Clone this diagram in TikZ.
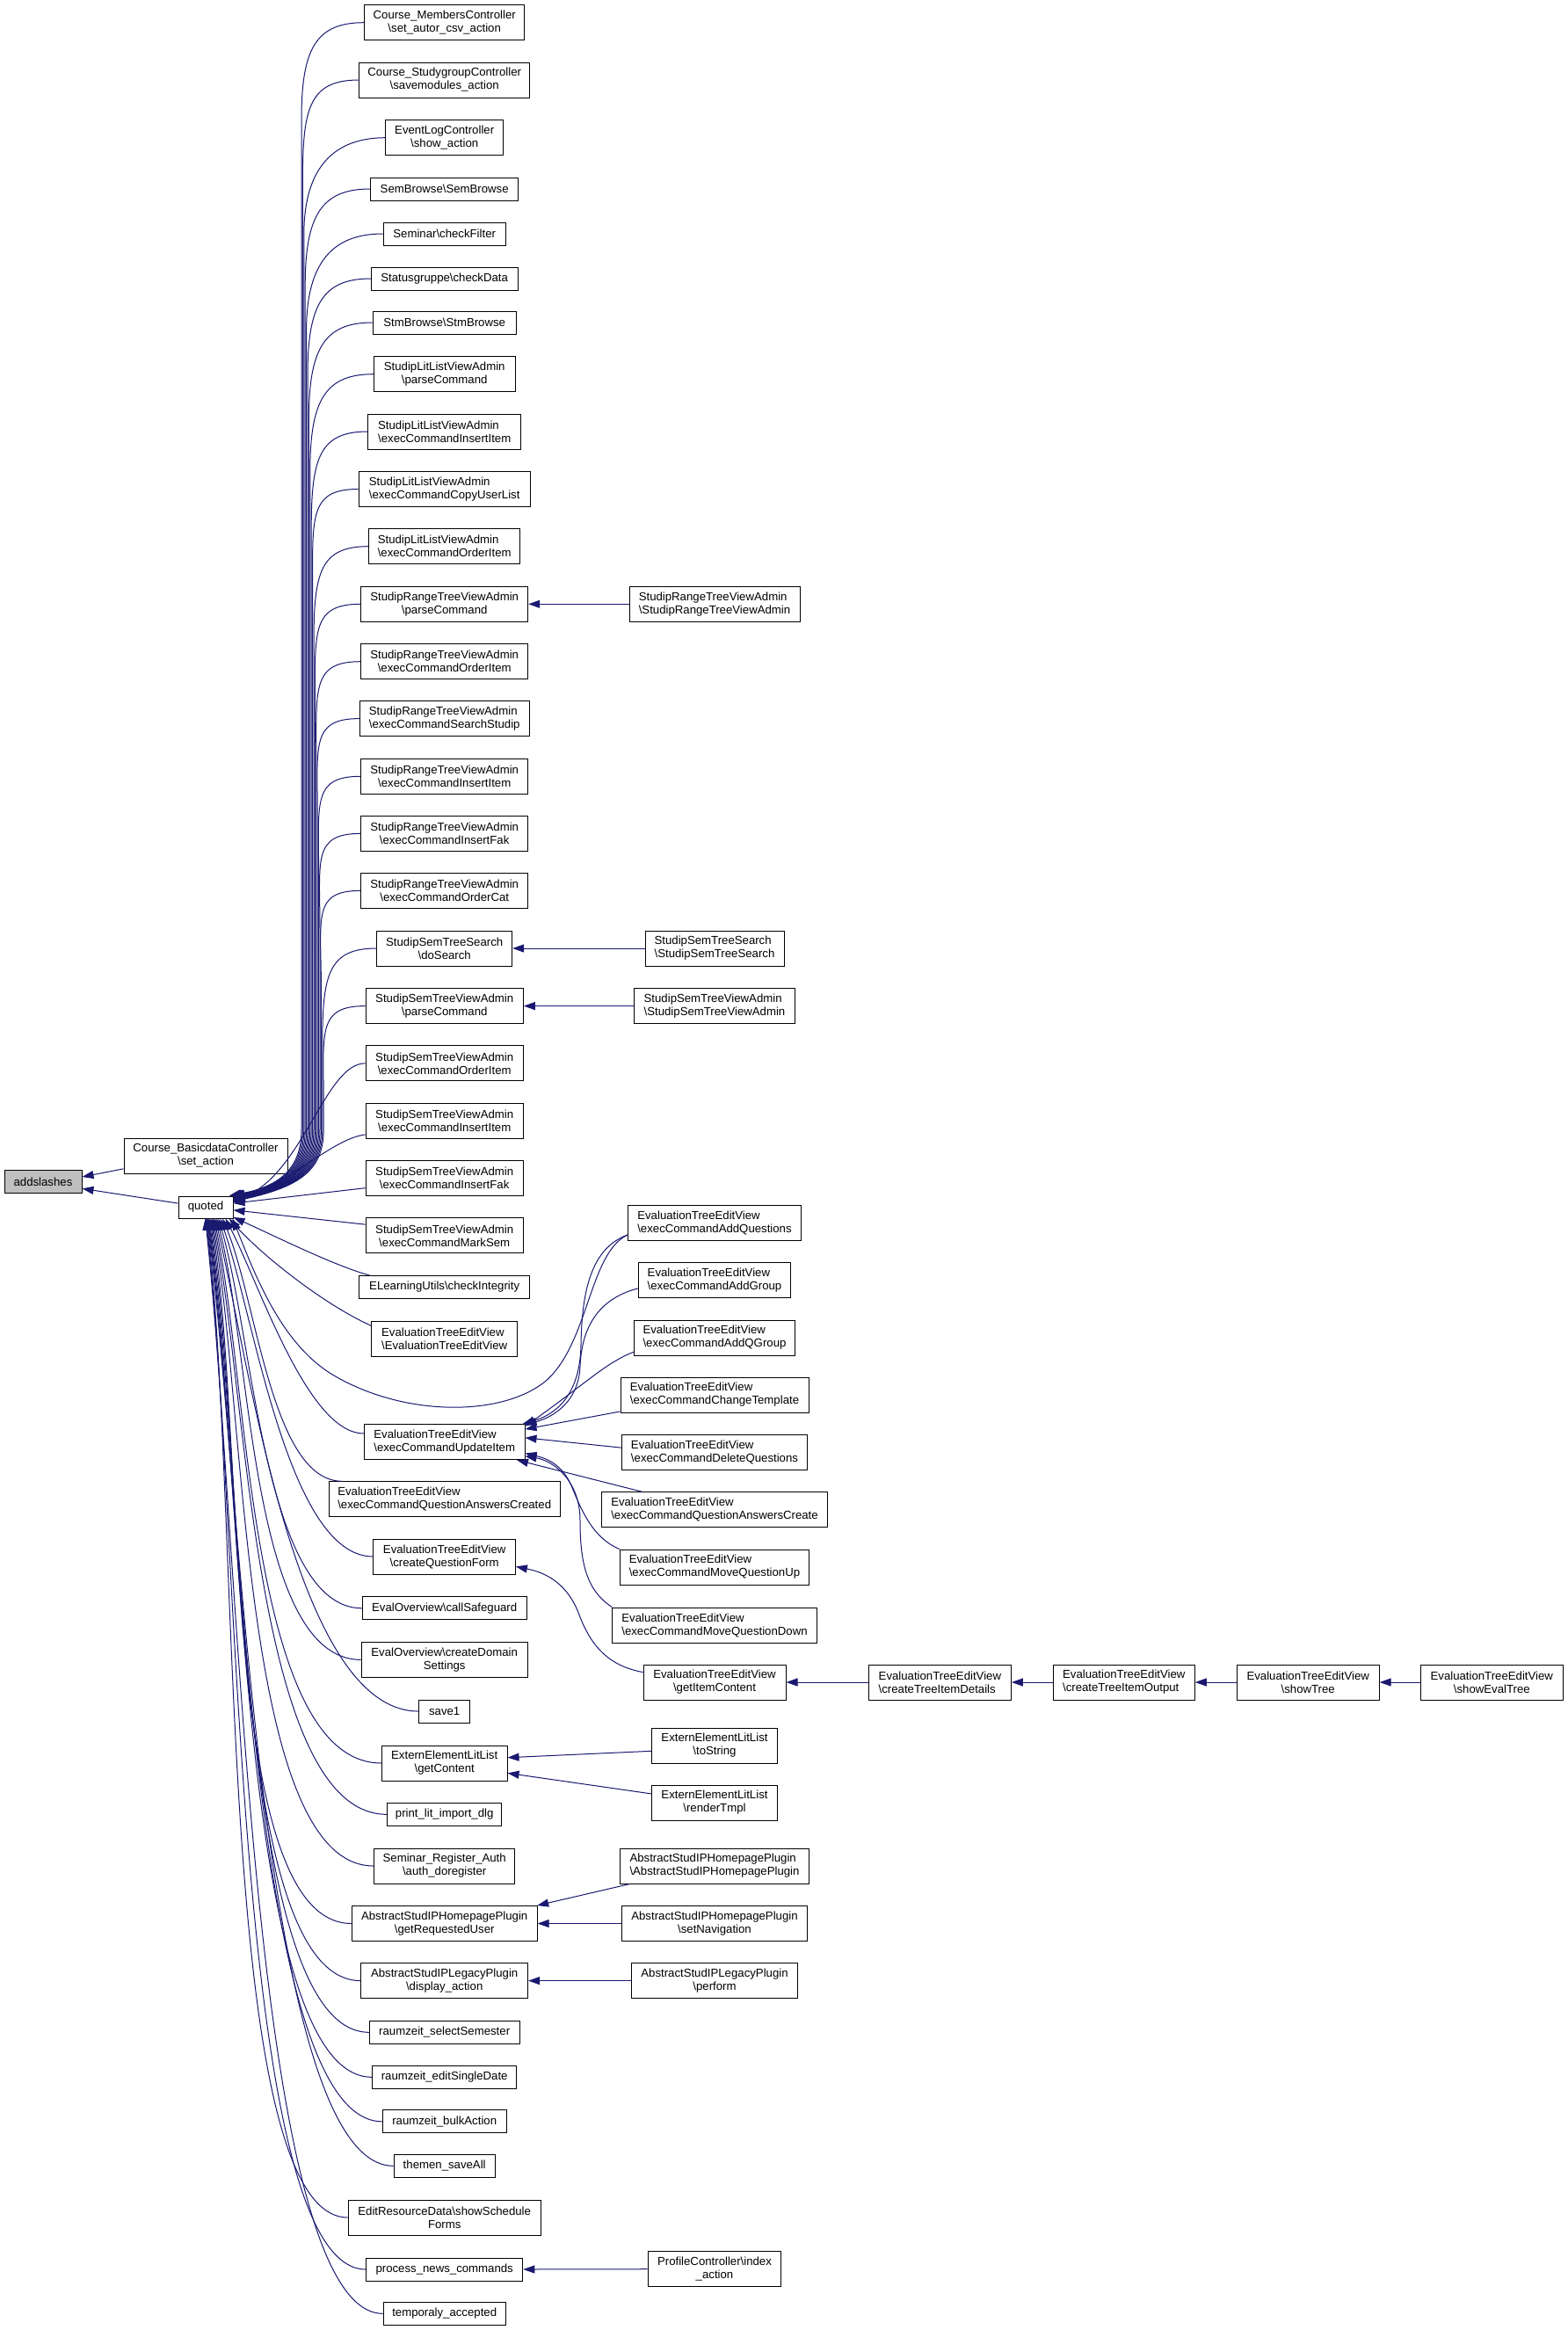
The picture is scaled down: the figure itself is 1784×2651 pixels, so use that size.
\documentclass[tikz,border=0pt]{standalone}
\usepackage{fontspec}
\setmainfont{Liberation Sans}
\usetikzlibrary{arrows.meta,calc}
\definecolor{edgeblue}{HTML}{191970}
\definecolor{rootgray}{HTML}{BFBFBF}
\newcommand{\bsl}{\textbackslash}
\begin{document}
\begin{tikzpicture}[x=1pt,y=-1pt,
  fn/.style={draw=black,line width=1pt,fill=white,inner xsep=3pt,inner ysep=1pt,minimum height=26pt,font=\fontsize{13.2}{15}\selectfont},
  two/.style={minimum height=40pt},
  lft/.style={align=left},
  ctr/.style={align=center},
  root/.style={fill=rootgray},
  edge/.style={draw=edgeblue,line width=1pt,-{Triangle[length=13pt,width=9pt]}}]
\useasboundingbox[fill=white] (0,0) rectangle (1784,2651);

% ---- left
\node[fn,root,minimum width=88pt] (addslashes) at (49,1344.5) {addslashes};
\node[fn,two,ctr,minimum width=186pt] (basic) at (234,1315) {Course\_BasicdataController\\\bsl{}set\_action};
\node[fn,minimum width=62pt,minimum height=25pt] (quoted) at (234,1373.5) {quoted};

% ---- column A
\node[fn,two,ctr,minimum width=182pt] (a1) at (505.7,25.7) {Course\_MembersController\\\bsl{}set\_autor\_csv\_action};
\node[fn,two,ctr,minimum width=193.5pt] (a2) at (505.7,91) {Course\_StudygroupController\\\bsl{}savemodules\_action};
\node[fn,two,ctr,minimum width=133.5pt] (a3) at (505.7,156.7) {EventLogController\\\bsl{}show\_action};
\node[fn,minimum width=168.5pt] (a4) at (505.7,215) {SemBrowse\bsl{}SemBrowse};
\node[fn,minimum width=139pt] (a5) at (505.7,266) {Seminar\bsl{}checkFilter};
\node[fn,minimum width=166.7pt] (a6) at (505.7,317) {Statusgruppe\bsl{}checkData};
\node[fn,minimum width=163pt] (a7) at (505.7,367) {StmBrowse\bsl{}StmBrowse};
\node[fn,two,ctr,minimum width=160.7pt] (a8) at (505.7,425.7) {StudipLitListViewAdmin\\\bsl{}parseCommand};
\node[fn,two,lft,minimum width=173.5pt] (a9) at (505.7,491) {StudipLitListViewAdmin\\\bsl{}execCommandInsertItem};
\node[fn,two,lft,minimum width=195pt] (a10) at (505.7,556.5) {StudipLitListViewAdmin\\\bsl{}execCommandCopyUserList};
\node[fn,two,lft,minimum width=172.5pt] (a11) at (505.7,621.7) {StudipLitListViewAdmin\\\bsl{}execCommandOrderItem};
\node[fn,two,ctr,minimum width=190pt] (a12) at (505.7,687.3) {StudipRangeTreeViewAdmin\\\bsl{}parseCommand};
\node[fn,two,ctr,minimum width=190pt] (a13) at (505.7,752.7) {StudipRangeTreeViewAdmin\\\bsl{}execCommandOrderItem};
\node[fn,two,lft,minimum width=192.8pt] (a14) at (505.7,817.6) {StudipRangeTreeViewAdmin\\\bsl{}execCommandSearchStudip};
\node[fn,two,ctr,minimum width=190pt] (a15) at (505.7,883.3) {StudipRangeTreeViewAdmin\\\bsl{}execCommandInsertItem};
\node[fn,two,ctr,minimum width=190pt] (a16) at (505.7,948.4) {StudipRangeTreeViewAdmin\\\bsl{}execCommandInsertFak};
\node[fn,two,ctr,minimum width=190pt] (a17) at (505.7,1013.4) {StudipRangeTreeViewAdmin\\\bsl{}execCommandOrderCat};
\node[fn,two,ctr,minimum width=153.8pt] (a18) at (505.7,1079) {StudipSemTreeSearch\\\bsl{}doSearch};
\node[fn,two,ctr,minimum width=179.3pt] (a19) at (505.7,1144.6) {StudipSemTreeViewAdmin\\\bsl{}parseCommand};
\node[fn,two,ctr,minimum width=179.3pt] (a20) at (505.7,1209.8) {StudipSemTreeViewAdmin\\\bsl{}execCommandOrderItem};
\node[fn,two,ctr,minimum width=179.3pt] (a21) at (505.7,1275) {StudipSemTreeViewAdmin\\\bsl{}execCommandInsertItem};
\node[fn,two,ctr,minimum width=179.3pt] (a22) at (505.7,1340.6) {StudipSemTreeViewAdmin\\\bsl{}execCommandInsertFak};
\node[fn,two,ctr,minimum width=179.3pt] (a23) at (505.7,1405.8) {StudipSemTreeViewAdmin\\\bsl{}execCommandMarkSem};
\node[fn,minimum width=193.7pt] (a24) at (505.7,1464.5) {ELearningUtils\bsl{}checkIntegrity};
\node[fn,two,lft,minimum width=166pt] (a25) at (505.7,1523) {EvaluationTreeEditView\\\bsl{}EvaluationTreeEditView};
\node[fn,two,lft,minimum width=182.6pt] (a26) at (505.7,1640.6) {EvaluationTreeEditView\\\bsl{}execCommandUpdateItem};
\node[fn,two,lft,minimum width=262.6pt] (a27) at (505.7,1705.8) {EvaluationTreeEditView\\\bsl{}execCommandQuestionAnswersCreated};
\node[fn,two,ctr,minimum width=161.5pt] (a28) at (505.7,1771) {EvaluationTreeEditView\\\bsl{}createQuestionForm};
\node[fn,minimum width=186.8pt] (a29) at (505.7,1829.8) {EvalOverview\bsl{}callSafeguard};
\node[fn,two,ctr,minimum width=189pt] (a30) at (505.7,1888.4) {EvalOverview\bsl{}createDomain\\Settings};
\node[fn,minimum width=58.2pt] (a31) at (505.7,1947) {save1};
\node[fn,two,ctr,minimum width=142.7pt] (a32) at (505.7,2006) {ExternElementLitList\\\bsl{}getContent};
\node[fn,minimum width=130.5pt] (a33) at (505.7,2064.3) {print\_lit\_import\_dlg};
\node[fn,two,ctr,minimum width=160.4pt] (a34) at (505.7,2123) {Seminar\_Register\_Auth\\\bsl{}auth\_doregister};
\node[fn,two,ctr,minimum width=210.9pt] (a35) at (505.7,2188.5) {AbstractStudIPHomepagePlugin\\\bsl{}getRequestedUser};
\node[fn,two,ctr,minimum width=189.8pt] (a36) at (505.7,2253.6) {AbstractStudIPLegacyPlugin\\\bsl{}display\_action};
\node[fn,minimum width=170.7pt] (a37) at (505.7,2312.3) {raumzeit\_selectSemester};
\node[fn,minimum width=164.2pt] (a38) at (505.7,2363.3) {raumzeit\_editSingleDate};
\node[fn,minimum width=140.8pt] (a39) at (505.7,2413.8) {raumzeit\_bulkAction};
\node[fn,minimum width=115.2pt] (a40) at (505.7,2464.3) {themen\_saveAll};
\node[fn,two,ctr,minimum width=219pt] (a41) at (505.7,2523) {EditResourceData\bsl{}showSchedule\\Forms};
\node[fn,minimum width=178.3pt] (a42) at (505.7,2582) {process\_news\_commands};
\node[fn,minimum width=139.3pt] (a43) at (505.7,2632.3) {temporaly\_accepted};

% ---- column B
\node[fn,two,lft,minimum width=194pt] (b12) at (813,687.3) {StudipRangeTreeViewAdmin\\\bsl{}StudipRangeTreeViewAdmin};
\node[fn,two,lft,minimum width=158pt] (b18) at (813,1079) {StudipSemTreeSearch\\\bsl{}StudipSemTreeSearch};
\node[fn,two,lft,minimum width=183pt] (b19) at (813,1144.6) {StudipSemTreeViewAdmin\\\bsl{}StudipSemTreeViewAdmin};
\node[fn,two,lft,minimum width=196.3pt] (e1) at (813,1391) {EvaluationTreeEditView\\\bsl{}execCommandAddQuestions};
\node[fn,two,lft,minimum width=172.6pt] (e2) at (813,1456.7) {EvaluationTreeEditView\\\bsl{}execCommandAddGroup};
\node[fn,two,lft,minimum width=183.3pt] (e3) at (813,1522) {EvaluationTreeEditView\\\bsl{}execCommandAddQGroup};
\node[fn,two,lft,minimum width=214pt] (e4) at (813,1587) {EvaluationTreeEditView\\\bsl{}execCommandChangeTemplate};
\node[fn,two,lft,minimum width=211pt] (e5) at (813,1652.7) {EvaluationTreeEditView\\\bsl{}execCommandDeleteQuestions};
\node[fn,two,lft,minimum width=256.4pt] (e6) at (813,1717.8) {EvaluationTreeEditView\\\bsl{}execCommandQuestionAnswersCreate};
\node[fn,two,lft,minimum width=215.5pt] (e7) at (813,1783) {EvaluationTreeEditView\\\bsl{}execCommandMoveQuestionUp};
\node[fn,two,lft,minimum width=232.3pt] (e8) at (813,1849) {EvaluationTreeEditView\\\bsl{}execCommandMoveQuestionDown};
\node[fn,two,ctr,minimum width=162pt] (g1) at (813,1914) {EvaluationTreeEditView\\\bsl{}getItemContent};
\node[fn,two,ctr,minimum width=143pt] (x1) at (813,1986) {ExternElementLitList\\\bsl{}toString};
\node[fn,two,ctr,minimum width=143pt] (x2) at (813,2051) {ExternElementLitList\\\bsl{}renderTmpl};
\node[fn,two,lft,minimum width=215.5pt] (h1) at (813,2123) {AbstractStudIPHomepagePlugin\\\bsl{}AbstractStudIPHomepagePlugin};
\node[fn,two,ctr,minimum width=211pt] (h2) at (813,2188.5) {AbstractStudIPHomepagePlugin\\\bsl{}setNavigation};
\node[fn,two,ctr,minimum width=189.8pt] (l1) at (813,2253.6) {AbstractStudIPLegacyPlugin\\\bsl{}perform};
\node[fn,two,ctr,minimum width=151.6pt] (p1) at (813,2581.7) {ProfileController\bsl{}index\\\_action};

% ---- chain
\node[fn,two,lft,minimum width=162pt] (c1) at (1069.4,1914) {EvaluationTreeEditView\\\bsl{}createTreeItemDetails};
\node[fn,two,lft,minimum width=161pt] (c2) at (1278.8,1914) {EvaluationTreeEditView\\\bsl{}createTreeItemOutput};
\node[fn,two,ctr,minimum width=162pt] (c3) at (1488.2,1914) {EvaluationTreeEditView\\\bsl{}showTree};
\node[fn,two,ctr,minimum width=162pt] (c4) at (1697.3,1914) {EvaluationTreeEditView\\\bsl{}showEvalTree};

% ---- edges to addslashes
\draw[edge] (basic.189) -- (addslashes.7.5);
\draw[edge] (quoted.172) -- (addslashes.-10);

% ---- upper callers of quoted
\foreach \n/\y/\i in {a1/25.7/0,a2/91/1,a3/156.7/2,a4/215/3,a5/266/4,a6/317/5,a7/367/6,a8/425.7/7,a9/491/8,a10/556.5/9,a11/621.7/10,a12/687.3/11,a13/752.7/12,a14/817.6/13,a15/883.3/14,a16/948.4/15,a17/1013.4/16,a18/1079/17,a19/1144.6/18}{
  \pgfmathsetmacro\L{343+1.4*\i}
  \pgfmathsetmacro\t{26-0.75*\i}
  \draw[edge] (\n.west) .. controls ($(\n.west)+(-55,0)$) and (\L,\y+30) .. (\L,\y+110) -- (\L,1285) .. controls (\L,1330) and (\L-25,1350) .. (quoted.\t);
}
\draw[edge] (a20.west) .. controls (370,1209.8) and (345,1335) .. (quoted.12);
\draw[edge] (a21.190) .. controls (380,1295) and (330,1345) .. (quoted.10);
\draw[edge] (a22.187) -- (quoted.8);
\draw[edge] (a23.172) -- (quoted.-6);

% ---- lower callers of quoted
\draw[edge] (a24.171) .. controls (380,1440) and (310,1405) .. (quoted.-20);
\draw[edge] (a25.170) .. controls (370,1485) and (300,1430) .. (quoted.-26);
\foreach \n/\a/\y/\t/\xt in {a26/174/1640.6/-30/255.7,a27/170/1705.8/-34/252.5,a28/180/1771/-38/250,a29/180/1829.8/-42/247.9,a30/180/1888.4/-46/246.1,a31/180/1947/-50/244.5,a32/180/2006/-54/243.1,a33/180/2064.3/-58/241.8,a34/180/2123/-62/240.6,a35/180/2188.5/-66/239.6,a36/180/2253.6/-70/238.5,a37/180/2312.3/-74/237.6,a38/180/2363.3/-77/236.9,a39/180/2413.8/-80/236.2,a40/180/2464.3/-83/235.5,a41/180/2523/-86/234.9,a42/180/2582/-89/234.2,a43/180/2632.3/-92/233.6}{
  \pgfmathsetmacro\d{\y-1386}
  \pgfmathsetmacro\k{min(150,0.25*\d)}
  \pgfmathsetmacro\py{1386+0.3*\d}
  \draw[edge] (\n.\a) .. controls ($(\n.\a)+(-\k,0)$) and (\xt+40,\py) .. (quoted.\t);
}
% AddQuestions -> quoted (long curve)
\draw[edge] (e1.188) .. controls (670,1425) and (670,1530) .. (620,1572) .. controls (570,1612) and (460,1612) .. (380,1565) .. controls (320,1530) and (290,1450) .. (quoted.-23);

% ---- second column to first
\draw[edge] (b12.west) -- (a12.east);
\draw[edge] (b18.west) -- (a18.east);
\draw[edge] (b19.west) -- (a19.east);
\draw[edge] (e1.188) .. controls (672,1420) and (662,1470) .. (661,1530) .. controls (660,1590) and (630,1610) .. (a26.13);
\draw[edge] (e2.186) .. controls (690,1475) and (662,1500) .. (660,1555) .. controls (658,1595) and (630,1612) .. (a26.12);
\draw[edge] (e3.190) .. controls (690,1550) and (665,1575) .. (a26.11);
\draw[edge] (e4.190) -- (a26.9);
\draw[edge] (e5.177) -- (a26.3);
\draw[edge] (e6.166) -- (a26.-14);
\draw[edge] (e7.north west) .. controls (675,1750) and (662,1720) .. (650,1690) .. controls (640,1668) and (625,1660) .. (a26.-8);
\draw[edge] (e8.north west) .. controls (668,1810) and (660,1780) .. (660,1730) .. controls (660,1685) and (630,1662) .. (a26.-10);
\draw[edge] (g1.172) .. controls (690,1895) and (672,1870) .. (660,1840) .. controls (648,1805) and (625,1790) .. (a28.-8);
\draw[edge] (x1.185) -- (a32.5);
\draw[edge] (x2.172) -- (a32.-9);
\draw[edge] (h1.192) -- (a35.11.5);
\draw[edge] (h2.west) -- (a35.east);
\draw[edge] (l1.west) -- (a36.east);
\draw[edge] (p1.west) -- (a42.east);

% ---- chain
\draw[edge] (c1.west) -- (g1.east);
\draw[edge] (c2.west) -- (c1.east);
\draw[edge] (c3.west) -- (c2.east);
\draw[edge] (c4.west) -- (c3.east);
\end{tikzpicture}
\end{document}
